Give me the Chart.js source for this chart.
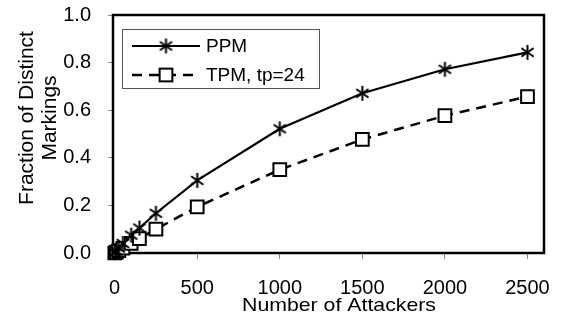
<!DOCTYPE html>
<html>
<head>
<meta charset="utf-8">
<script src="https://cdn.jsdelivr.net/npm/chart.js@4.4.0/dist/chart.umd.min.js"></script>
<style>
  html, body { margin: 0; padding: 0; background: #fff; }
  #box { width: 562px; height: 320px; }
</style>
</head>
<body>
<div id="box"><canvas id="chart"></canvas></div>
<script>
const attackers = [1, 10, 25, 50, 100, 150, 250, 500, 1000, 1500, 2000, 2500];
const ppmValues = [0.001, 0.008, 0.02, 0.04, 0.075, 0.105, 0.167, 0.305, 0.522, 0.671, 0.772, 0.843];
const tpmValues = [0.0, 0.004, 0.01, 0.02, 0.04, 0.06, 0.10, 0.194, 0.350, 0.477, 0.577, 0.657];
const seriesNames = ['PPM', 'TPM, tp=24'];
const xTicks = [0, 500, 1000, 1500, 2000, 2500];
const yTicks = [0, 0.2, 0.4, 0.6, 0.8, 1.0];
const xTitle = 'Number of Attackers';
const yTitle = ['Fraction of Distinct', 'Markings'];

const FONT = "'Liberation Sans', Arial, sans-serif";

function makeAsterisk(size) {
  const c = document.createElement('canvas');
  c.width = size;
  c.height = size;
  const g = c.getContext('2d');
  g.strokeStyle = '#000';
  g.lineWidth = 2;
  const m = size / 2;
  const r = size / 2 - 1;
  [90, 35, 145].forEach(a => {
    const t = a * Math.PI / 180;
    g.beginPath();
    g.moveTo(m - r * Math.cos(t), m - r * Math.sin(t));
    g.lineTo(m + r * Math.cos(t), m + r * Math.sin(t));
    g.stroke();
  });
  return c;
}
const asterisk = makeAsterisk(17);

const pts = vals => attackers.map((x, i) => ({ x: x, y: vals[i] }));

// legend drawn inside the plot, in a thin box
const boxLegend = {
  id: 'boxLegend',
  afterDraw(chart) {
    const ctx = chart.ctx;
    ctx.save();
    ctx.strokeStyle = '#555';
    ctx.lineWidth = 1;
    ctx.strokeRect(122.5, 29.5, 197, 59);
    chart.data.datasets.forEach((ds, i) => {
      const y = 46 + i * 29;
      ctx.strokeStyle = '#000';
      ctx.lineWidth = ds.borderWidth;
      ctx.setLineDash(ds.borderDash || []);
      ctx.beginPath();
      ctx.moveTo(132, y);
      ctx.lineTo(200, y);
      ctx.stroke();
      ctx.setLineDash([]);
      if (ds.pointStyle === 'rect') {
        ctx.fillStyle = '#fff';
        ctx.lineWidth = ds.pointBorderWidth;
        const s = Math.SQRT1_2 * ds.pointRadius;
        ctx.fillRect(166 - s, y - s, 2 * s, 2 * s);
        ctx.strokeRect(166 - s, y - s, 2 * s, 2 * s);
      } else {
        ctx.drawImage(ds.pointStyle, 166 - ds.pointStyle.width / 2, y - ds.pointStyle.height / 2);
      }
      ctx.fillStyle = '#000';
      ctx.font = '19px ' + FONT;
      ctx.textBaseline = 'middle';
      ctx.fillText(ds.label, 206, y + 1);
    });
    ctx.restore();
  }
};

// frame round the plot and axis titles
const frameAndTitles = {
  id: 'frameAndTitles',
  beforeDatasetsDraw(chart) {
    const a = chart.chartArea;
    const ctx = chart.ctx;
    ctx.save();
    ctx.strokeStyle = '#000';
    ctx.lineWidth = 2.5;
    ctx.strokeRect(a.left, a.top, a.right - a.left, a.bottom - a.top);
    ctx.restore();
  },
  afterDraw(chart) {
    const ctx = chart.ctx;
    ctx.save();
    ctx.fillStyle = '#000';
    ctx.font = '19px ' + FONT;
    ctx.textAlign = 'center';
    ctx.textBaseline = 'alphabetic';
    ctx.save();
    ctx.translate(339, 311);
    ctx.scale(1.12, 1);
    ctx.fillText(xTitle, 0, 0);
    ctx.restore();
    ctx.font = '21px ' + FONT;
    ctx.textBaseline = 'middle';
    ctx.translate(0, 118);
    ctx.rotate(-Math.PI / 2);
    ctx.fillText(yTitle[0], 0, 27);
    ctx.fillText(yTitle[1], 0, 50);
    ctx.restore();
  }
};

new Chart(document.getElementById('chart'), {
  type: 'scatter',
  data: {
    datasets: [
      {
        label: seriesNames[0],
        data: pts(ppmValues),
        showLine: true,
        borderColor: '#000',
        borderWidth: 2.2,
        pointStyle: asterisk,
        pointRadius: 8,
        pointBorderWidth: 1.6,
        pointBorderColor: '#000',
        pointBackgroundColor: '#000',
        tension: 0,
        clip: false
      },
      {
        label: seriesNames[1],
        data: pts(tpmValues),
        showLine: true,
        borderColor: '#000',
        borderWidth: 2.5,
        borderDash: [10, 7],
        pointStyle: 'rect',
        pointRadius: 9,
        pointBorderWidth: 2,
        pointBorderColor: '#000',
        pointBackgroundColor: '#fff',
        tension: 0,
        clip: false
      }
    ]
  },
  options: {
    responsive: true,
    maintainAspectRatio: false,
    animation: false,
    layout: { padding: { left: 0, right: 18, top: 15, bottom: 0 } },
    plugins: {
      legend: { display: false },
      tooltip: { enabled: false }
    },
    scales: {
      x: {
        type: 'linear',
        min: -10,
        max: 2600,
        afterBuildTicks: scale => { scale.ticks = xTicks.map(v => ({ value: v })); },
        afterFit: scale => {
          scale.height = 67;
          scale.paddingLeft = 0;
          scale.paddingRight = 0;
        },
        grid: { drawOnChartArea: false, drawTicks: true, tickLength: 6, color: '#888' },
        border: { display: false },
        ticks: {
          color: '#000',
          font: { family: FONT, size: 20 },
          padding: 17,
          maxRotation: 0,
          callback: v => String(v)
        }
      },
      y: {
        type: 'linear',
        min: 0,
        max: 1,
        afterBuildTicks: scale => { scale.ticks = yTicks.map(v => ({ value: v })); },
        afterFit: scale => {
          scale.width = 113;
          scale.paddingTop = 0;
          scale.paddingBottom = 0;
        },
        grid: { drawOnChartArea: false, drawTicks: true, tickLength: 5, color: '#888' },
        border: { display: false },
        ticks: {
          color: '#000',
          font: { family: FONT, size: 20 },
          padding: 17,
          callback: v => v.toFixed(1)
        }
      }
    }
  },
  plugins: [frameAndTitles, boxLegend]
});
</script>
</body>
</html>
